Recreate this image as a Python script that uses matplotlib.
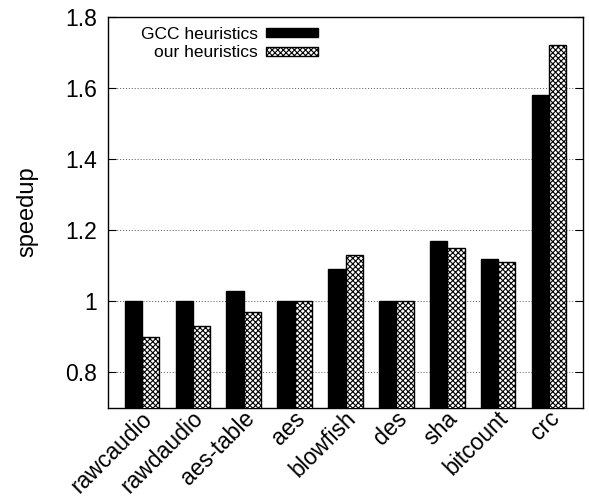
import matplotlib.pyplot as plt
import matplotlib.transforms as mtransforms
import numpy as np

plt.rcParams['font.family'] = ['Liberation Sans', 'DejaVu Sans']
plt.rcParams['hatch.linewidth'] = 0.8

benchmarks = ['rawcaudio', 'rawdaudio', 'aes-table', 'aes', 'blowfish',
              'des', 'sha', 'bitcount', 'crc']
gcc_speedup = [1.00, 1.00, 1.03, 1.00, 1.09, 1.00, 1.17, 1.12, 1.58]
our_speedup = [0.90, 0.93, 0.97, 1.00, 1.13, 1.00, 1.15, 1.11, 1.72]

x = np.arange(len(benchmarks))
w = 0.34

fig = plt.figure(figsize=(5.89, 5.04), dpi=100)
ax = fig.add_axes([108 / 589, 96 / 504, 475 / 589, 391 / 504])

ax.bar(x - w / 2, gcc_speedup, w, color='black', edgecolor='black',
       linewidth=1, label='GCC heuristics', zorder=3)
ax.bar(x + w / 2, our_speedup, w, color='white', edgecolor='black',
       hatch='xxxxxx', linewidth=1, label='our heuristics', zorder=3)

ax.set_xlim(-0.67, 8.67)
ax.set_ylim(0.7, 1.8)
ax.set_yticks([0.8, 1.0, 1.2, 1.4, 1.6, 1.8])
ax.set_yticklabels(['0.8', '1', '1.2', '1.4', '1.6', '1.8'])
ax.set_xticks(x)
ax.set_xticklabels(benchmarks, rotation=45, ha='right', va='top',
                   rotation_mode='anchor')
ax.tick_params(axis='x', length=0, pad=0, labelsize=16.5)
ax.tick_params(axis='y', direction='in', length=6, right=True, labelsize=16.5, pad=8)
ax.yaxis.grid(True, linestyle=(0, (1, 2)), color='#555555', linewidth=0.7, zorder=0)
for s in ax.spines.values():
    s.set_linewidth(1)

# nudge the rotated category labels
shift = mtransforms.ScaledTranslation(-1 / 100, 1 / 100, fig.dpi_scale_trans)
for lbl in ax.get_xticklabels():
    lbl.set_transform(lbl.get_transform() + shift)

ax.set_ylabel('speedup', fontsize=17)
ax.yaxis.set_label_coords(38 / 589, 1 - 212 / 504, transform=fig.transFigure)

leg = fig.legend(loc='upper right', bbox_to_anchor=(318 / 589, 1 - 27 / 504),
                 frameon=False, markerfirst=False, fontsize=12.5,
                 handlelength=3.0, handleheight=0.4, labelspacing=0.2,
                 handletextpad=0.45, borderpad=0, borderaxespad=0)
for t in leg.get_texts():
    t.set_ha('right')

fig.savefig('out.png', dpi=100)
